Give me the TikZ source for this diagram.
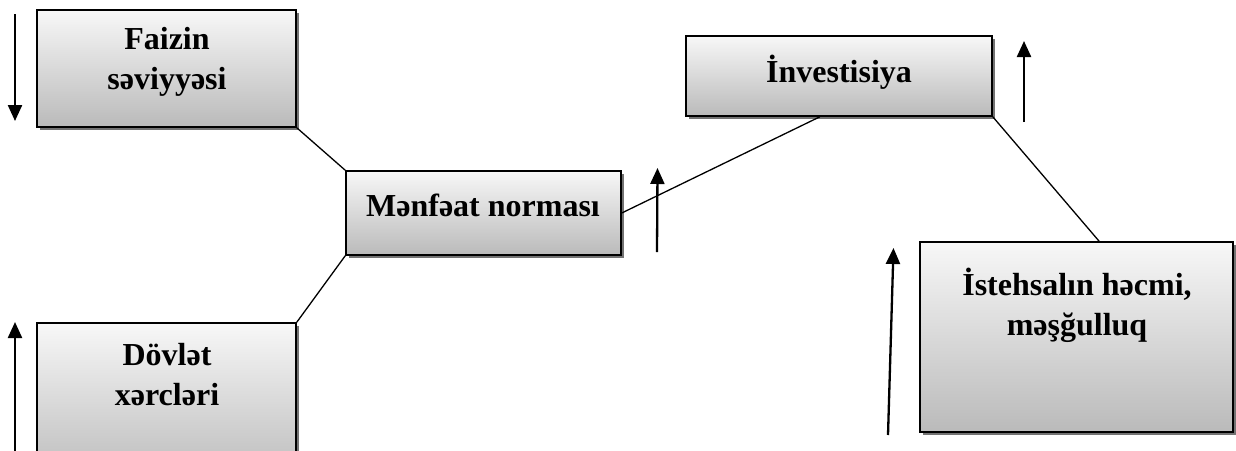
\documentclass[tikz,border=0pt]{standalone}
\usepackage{fontspec}
\setmainfont{Liberation Serif}
\usetikzlibrary{shadows,arrows.meta,calc}
\tikzset{
  box/.style={rectangle, draw=black, line width=1.5pt, top color=white!97!black, bottom color=black!27,
    drop shadow={shadow xshift=3pt, shadow yshift=-3pt, fill=black!55, opacity=1}, inner sep=0pt},
  boxtext/.style={align=center, font=\bfseries\fontsize{32}{40}\selectfont, inner sep=0pt},
  link/.style={line width=1.3pt, draw=black},
  updown/.style={line width=2.3pt, -{Triangle[width=14pt,length=16pt]}}
}
\begin{document}
\begin{tikzpicture}[x=1pt,y=-1pt]
\useasboundingbox (0,0) rectangle (1236,450);
\clip (0,0) rectangle (1236,450);
% boxes
\node[box, minimum width=259pt, minimum height=117pt] (faizin) at (166.5,68.5) {};
\node[box, minimum width=259pt, minimum height=160pt] (dovlet) at (166.5,403) {};
\node[box, minimum width=275pt, minimum height=84pt] (menfeat) at (483.5,213) {};
\node[box, minimum width=306pt, minimum height=80pt] (invest) at (839,76) {};
\node[box, minimum width=313pt, minimum height=190pt] (isteh) at (1076.5,337) {};
% texts
\node[boxtext] (tfaizin) at (167,62) {Faizin\\səviyyəsi};
\node[boxtext] (tdovlet) at (167,375) {Dövlət\\xərcləri};
\node[boxtext] (tmenfeat) at (483,205) {Mənfəat norması};
\node[boxtext] (tinvest) at (839,72) {İnvestisiya};
\node[boxtext] (tisteh) at (1077,305) {İstehsalın həcmi,\\məşğulluq};
% connectors
\draw[link] (faizin.south east) -- (menfeat.north west);
\draw[link] (dovlet.north east) -- (menfeat.south west);
\draw[link] (menfeat.east) -- ($(invest.south west)!0.438!(invest.south east)$);
\draw[link] (invest.south east) -- ($(isteh.north west)!0.572!(isteh.north east)$);
% arrows
\coordinate (a1s) at (15,14); \coordinate (a1e) at (15,121);
\coordinate (a2s) at (15,452); \coordinate (a2e) at (15,322);
\coordinate (a3s) at (657,252); \coordinate (a3e) at (657.5,168);
\coordinate (a4s) at (1024,122); \coordinate (a4e) at (1024,41);
\coordinate (a5s) at (888,435); \coordinate (a5e) at (893.5,248);
\draw[updown] (a1s) -- (a1e);
\draw[updown] (a2s) -- (a2e);
\draw[updown] (a3s) -- (a3e);
\draw[updown] (a4s) -- (a4e);
\draw[updown] (a5s) -- (a5e);
\end{tikzpicture}
\end{document}
